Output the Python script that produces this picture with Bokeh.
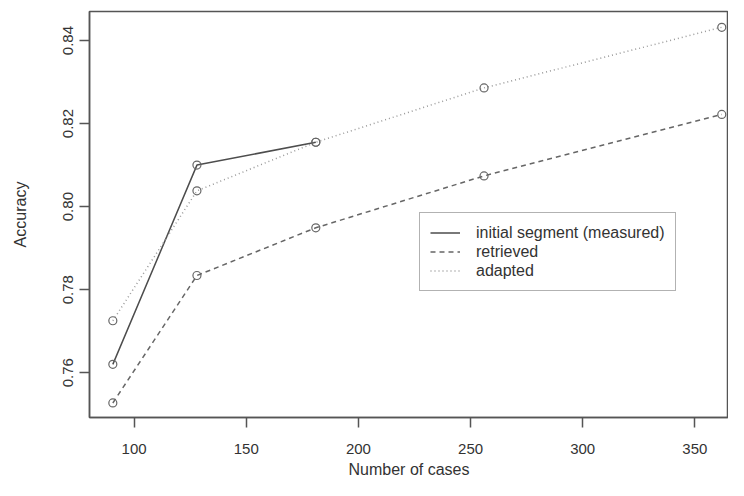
from bokeh.plotting import figure
from bokeh.models import Range1d, FixedTicker, Legend, LegendItem, PrintfTickFormatter
from bokeh.embed import file_html
from bokeh.resources import INLINE

# ---- data ----
cases = [90.5, 128, 181, 256, 362]
measured_cases = [90.5, 128, 181]
measured = [0.762, 0.810, 0.8155]
retrieved = [0.7527, 0.7834, 0.7949, 0.8074, 0.8222]
adapted = [0.7725, 0.8038, 0.8155, 0.8286, 0.8432]
x_ticks = [100, 150, 200, 250, 300, 350]
y_ticks = [0.76, 0.78, 0.80, 0.82, 0.84]

FONT = "Liberation Sans"
TXT = "#333333"

p = figure(width=728, height=480, output_backend="svg", toolbar_location=None,
           x_range=Range1d(80.1, 365.0), y_range=Range1d(0.7492, 0.847),
           min_border_left=89, min_border_top=11, min_border_bottom=62, min_border_right=0)

p.xgrid.visible = False
p.ygrid.visible = False
p.outline_line_color = "#555555"
p.outline_line_width = 1.5
p.background_fill_color = "white"
p.border_fill_color = "white"

for ax in (p.xaxis[0], p.yaxis[0]):
    ax.axis_line_color = "#555555"
    ax.axis_line_width = 1.5
    ax.major_tick_line_color = "#555555"
    ax.major_tick_line_width = 1.5
    ax.major_tick_out = 10
    ax.major_tick_in = 0
    ax.minor_tick_line_color = None
    ax.major_label_text_font = FONT
    ax.major_label_text_font_size = "15px"
    ax.major_label_text_color = TXT
    ax.axis_label_text_font = FONT
    ax.axis_label_text_font_size = "16px"
    ax.axis_label_text_font_style = "normal"
    ax.axis_label_text_color = TXT

p.xaxis[0].ticker = FixedTicker(ticks=x_ticks)
p.yaxis[0].ticker = FixedTicker(ticks=y_ticks)
p.yaxis[0].formatter = PrintfTickFormatter(format="%.2f")
p.yaxis[0].major_label_orientation = "vertical"
p.xaxis[0].axis_label = "Number of cases"
p.yaxis[0].axis_label = "Accuracy"
p.xaxis[0].major_label_standoff = 16
p.xaxis[0].axis_label_standoff = 4
p.yaxis[0].major_label_standoff = 6
p.yaxis[0].axis_label_standoff = 32

r_meas = p.line(measured_cases, measured, line_color="#4d4d4d", line_width=1.5)
r_ret = p.line(cases, retrieved, line_color="#666666", line_width=1.5, line_dash="5 4")
r_ad = p.line(cases, adapted, line_color="#999999", line_width=1.5, line_dash="1 3")

circ = dict(size=8, fill_color=None, line_color="#666666", line_width=1.2)
p.scatter(measured_cases, measured, **circ)
p.scatter(cases, retrieved, **circ)
p.scatter(cases, adapted, **circ)

legend = Legend(items=[
    LegendItem(label="initial segment (measured)", renderers=[r_meas]),
    LegendItem(label="retrieved", renderers=[r_ret]),
    LegendItem(label="adapted", renderers=[r_ad]),
], location=(330, 126))
legend.label_text_font = FONT
legend.label_text_font_size = "16px"
legend.label_text_color = TXT
legend.border_line_color = "#666666"
legend.border_line_width = 1.5
legend.padding = 10
legend.spacing = 0
legend.margin = 0
legend.label_height = 19
legend.glyph_height = 19
legend.glyph_width = 30
legend.label_standoff = 16
legend.background_fill_alpha = 1.0
p.add_layout(legend, "center")

open("out.html", "w").write(file_html(p, INLINE))
